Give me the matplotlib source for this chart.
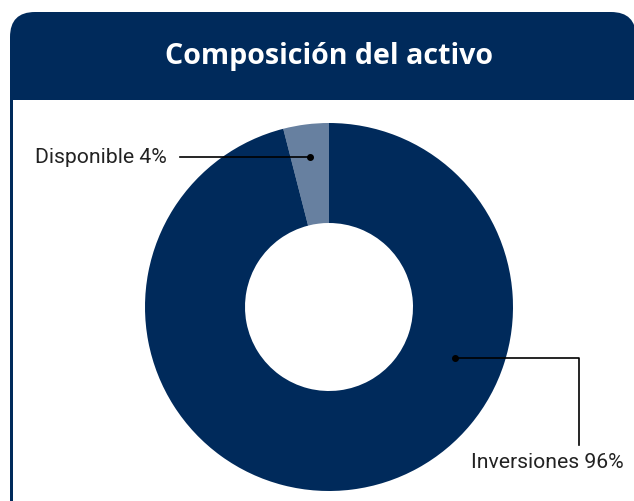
import numpy as np
import matplotlib
matplotlib.use("Agg")
import matplotlib.pyplot as plt
from matplotlib.patches import FancyBboxPatch, Rectangle

# data
categories = ["Disponible", "Inversiones"]
shares = [4, 96]
title = "Composición del activo"

NAVY = "#002a5b"
SLATE = "#6780a0"

W, H = 634, 501
plt.rcParams["font.family"] = ["Roboto", "DejaVu Sans"]

fig = plt.figure(figsize=(W / 100, H / 100), dpi=100)
ax = fig.add_axes([0, 0, 1, 1])


def py(y):
    # pixel row (from top) -> data y
    return H - y


# header bar with rounded top corners
rad = 25
ax.add_patch(FancyBboxPatch((10 + rad, py(100) + rad), W - 10 - 2 * rad + 2, 88 - 2 * rad,
                            boxstyle=f"round,pad={rad}", fc=NAVY, ec="none", zorder=1))
ax.add_patch(Rectangle((10, py(100)), W, 40, fc=NAVY, ec="none", zorder=1))
ax.add_patch(Rectangle((10, 0), 3, py(100), fc=NAVY, ec="none", zorder=1))
ax.text(329, py(53), title, color="white", fontsize=20.6, fontweight="bold",
        family=["Open Sans", "DejaVu Sans"],
        ha="center", va="center_baseline", zorder=3)

# donut
cx, cy, R = 329, py(307), 184
wedges, _ = ax.pie(shares, colors=[SLATE, NAVY], startangle=90, counterclock=True,
                   radius=R, center=(cx, cy),
                   wedgeprops=dict(width=100, edgecolor="none"))

# labels with leader lines
angles = np.cumsum([0] + shares) / 100 * 360 + 90
mid_disp = np.deg2rad((angles[0] + angles[1]) / 2)
dx, dy = cx + 151 * np.cos(mid_disp), cy + 151 * np.sin(mid_disp)
ax.plot([dx, 180], [dy, dy], color="black", lw=1.2, zorder=4)
ax.plot([dx], [dy], "o", color="black", ms=4, zorder=5)
ax.text(35, dy, f"{categories[0]} {shares[0]}%", fontsize=15.2, color="#222222",
        ha="left", va="center", zorder=5)

a_inv = np.deg2rad(-22)
ix, iy = cx + 136 * np.cos(a_inv), cy + 136 * np.sin(a_inv)
ax.plot([ix, 579, 579], [iy, iy, py(445)], color="black", lw=1.2, zorder=4)
ax.plot([ix], [iy], "o", color="black", ms=4, zorder=5)
ax.text(624, py(463), f"{categories[1]} {shares[1]}%", fontsize=15.2, color="#222222",
        ha="right", va="center", zorder=5)

ax.set_xlim(0, W)
ax.set_ylim(0, H)
ax.set_aspect("auto")
ax.axis("off")

fig.savefig("out.png", dpi=100)
